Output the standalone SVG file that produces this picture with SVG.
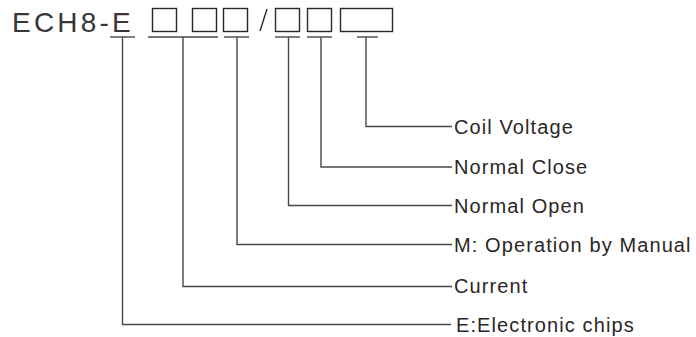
<svg xmlns="http://www.w3.org/2000/svg" width="696" height="337" viewBox="0 0 696 337">
<style>
.t{font-family:"Liberation Sans",Arial,sans-serif;fill:#2b2627}
.lbl{font-size:20px;letter-spacing:1.1px}
.ttl{font-size:28px;letter-spacing:3.2px;fill:#3a3536}
.ln{fill:none;stroke:#4a4546;stroke-width:1.4}
.bx{fill:none;stroke:#2b2627;stroke-width:1.4}
</style>
<rect width="696" height="337" fill="#fff"/>
<g id="code">
<text class="t ttl" x="12" y="32">ECH8-E</text>
<rect class="bx" x="152.5" y="8.5" width="24" height="23"/>
<rect class="bx" x="192.5" y="8.5" width="24" height="23"/>
<rect class="bx" x="223.5" y="8.5" width="24" height="23"/>
<line class="bx" x1="260" y1="31" x2="267" y2="9"/>
<rect class="bx" x="275.5" y="8.5" width="24" height="23"/>
<rect class="bx" x="307.5" y="8.5" width="24" height="23"/>
<rect class="bx" x="340.5" y="8.5" width="52" height="23"/>
</g>
<g id="connectors">
<line class="ln" x1="110" y1="37" x2="135" y2="37"/>
<line class="ln" x1="148" y1="37" x2="218" y2="37"/>
<line class="ln" x1="224" y1="37" x2="249" y2="37"/>
<line class="ln" x1="275" y1="37" x2="300" y2="37"/>
<line class="ln" x1="307" y1="37" x2="332" y2="37"/>
<line class="ln" x1="357" y1="37" x2="378" y2="37"/>
<path class="ln" d="M122.5,37V324.5H451"/>
<path class="ln" d="M183,37V286.5H452"/>
<path class="ln" d="M237,37V244.5H452"/>
<path class="ln" d="M288.5,37V205.5H452"/>
<path class="ln" d="M321,37V167H452"/>
<path class="ln" d="M366,37V126.5H452"/>
</g>
<g id="label-coil"><text class="t lbl" x="454" y="134">Coil Voltage</text></g>
<g id="label-nc"><text class="t lbl" x="454" y="174">Normal Close</text></g>
<g id="label-no"><text class="t lbl" x="454" y="213">Normal Open</text></g>
<g id="label-m"><text class="t lbl" x="454" y="252">M: Operation by Manual</text></g>
<g id="label-current"><text class="t lbl" x="454" y="293">Current</text></g>
<g id="label-e"><text class="t lbl" x="456" y="332">E:Electronic chips</text></g>
</svg>
